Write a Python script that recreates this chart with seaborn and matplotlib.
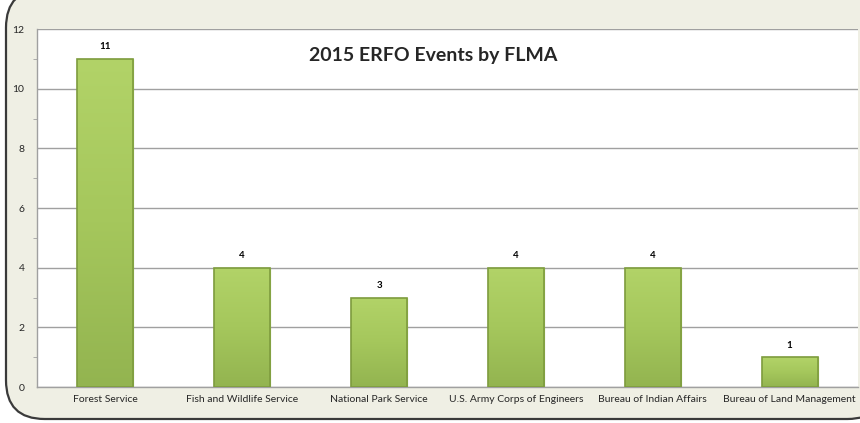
import numpy as np
import matplotlib
matplotlib.use("Agg")
import matplotlib.pyplot as plt
import seaborn as sns
import pandas as pd
from matplotlib.patches import FancyBboxPatch
from matplotlib.colors import LinearSegmentedColormap

# data
agencies = ["Forest Service", "Fish and Wildlife Service", "National Park Service",
            "U.S. Army Corps of Engineers", "Bureau of Indian Affairs",
            "Bureau of Land Management"]
events = [11, 4, 3, 4, 4, 1]
y_ticks = [0, 2, 4, 6, 8, 10, 12]

df = pd.DataFrame({"agency": agencies, "events": events})

sns.set_style("white")
plt.rcParams["font.family"] = ["Lato", "DejaVu Sans"]

fig = plt.figure(figsize=(8.6, 4.23), dpi=100)
fig.patch.set_facecolor("white")

# rounded frame behind the chart
frame = FancyBboxPatch((6 / 860, 4 / 423), 880 / 860, 430 / 423,
                       boxstyle="round,pad=0,rounding_size=0.045",
                       transform=fig.transFigure, facecolor="#EFEFE4",
                       edgecolor="#3A3A3A", linewidth=1.6, zorder=-5,
                       mutation_aspect=860 / 423)
fig.patches.append(frame)

ax = fig.add_axes([37 / 860, 36 / 423, 821 / 860, 358 / 423])
ax.set_zorder(1)
ax.set_facecolor("white")

sns.barplot(data=df, x="agency", y="events", ax=ax, width=0.41,
            color="#A6C85A", edgecolor="#7E9C3E", linewidth=0.8, zorder=3)

# vertical gradient on each bar
cmap = LinearSegmentedColormap.from_list("grn", ["#93B450", "#A5C75C", "#B2D368"])
grad = np.linspace(0, 1, 256).reshape(-1, 1)
for p in list(ax.patches):
    x0, y0 = p.get_x(), p.get_y()
    w, h = p.get_width(), p.get_height()
    im = ax.imshow(grad, extent=[x0, x0 + w, y0, y0 + h], origin="lower",
                   cmap=cmap, aspect="auto", zorder=3.5)
    im.set_clip_path(p)
    ax.add_patch(plt.Rectangle((x0, y0), w, h, fill=False,
                               edgecolor="#7E9C3E", linewidth=1.2, zorder=4))

for i, v in enumerate(events):
    ax.text(i, v + 0.25, str(v), ha="center", va="bottom",
            fontsize=7, fontweight="bold", color="black", zorder=5)

ax.set_xlim(-0.5, len(agencies) - 0.5)
ax.set_ylim(0, 12)
ax.set_yticks(y_ticks)
ax.set_yticks(np.arange(1, 12, 2), minor=True)
ax.yaxis.grid(True, color="#A0A0A0", linewidth=1.0, zorder=0)
ax.set_axisbelow(True)

ax.set_xticks(range(len(agencies)))
ax.set_xticklabels(agencies, fontsize=7.5)
ax.set_xticks(np.arange(-0.5, len(agencies), 1), minor=True)
ax.tick_params(axis="x", which="major", length=0, pad=6)
ax.tick_params(axis="x", which="minor", length=4, color="#A0A0A0", direction="out")
ax.tick_params(axis="y", which="major", length=5, color="#A0A0A0", labelsize=7.5, pad=4)
ax.tick_params(axis="y", which="minor", length=3, color="#A0A0A0", direction="out", left=True)
ax.set_xlabel("")
ax.set_ylabel("")

for side in ["top", "right"]:
    ax.spines[side].set_visible(False)
for side in ["left", "bottom"]:
    ax.spines[side].set_color("#A0A0A0")
    ax.spines[side].set_linewidth(1.0)

ax.text(0.482, 0.925, "2015 ERFO Events by FLMA", transform=ax.transAxes,
        ha="center", va="center", fontsize=14, fontweight="bold", zorder=6)

fig.savefig("out.png", dpi=100, facecolor=fig.get_facecolor())
